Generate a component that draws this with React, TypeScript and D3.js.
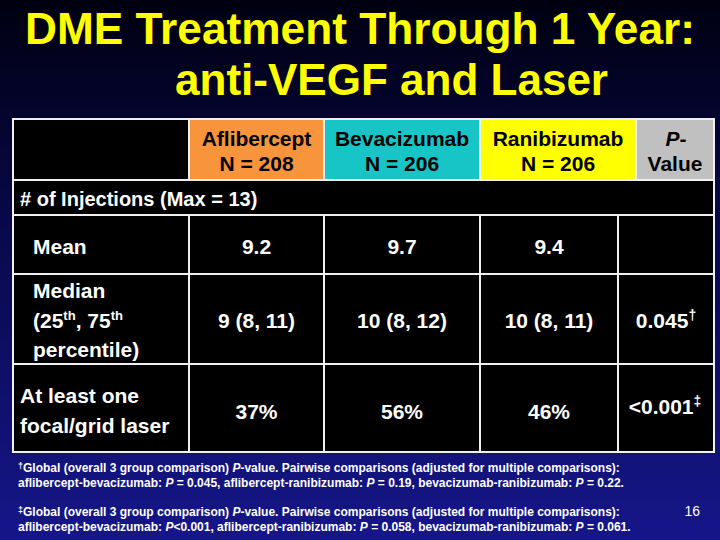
import React from "react";
import * as d3 from "d3";

const titleLines = ["DME Treatment Through 1 Year:", "anti-VEGF and Laser"];
const groups = ["Aflibercept", "Bevacizumab", "Ranibizumab"];
const groupN = [208, 206, 206];
const sectionLabel = "# of Injections (Max = 13)";
const meanValues = ["9.2", "9.7", "9.4"];
const medianValues = ["9 (8, 11)", "10 (8, 12)", "10 (8, 11)"];
const medianP = "0.045";
const laserValues = ["37%", "56%", "46%"];
const laserP = "<0.001";
const footLead = "Global (overall 3 group comparison) ";
const footPairs = "aflibercept-bevacizumab: ";
const slideNumber = "16";

const W = 720;
const H = 540;
const hdrEdges = [13, 189, 324, 480, 636, 714];
const bodyEdges = [13, 189, 324, 480, 618, 714];
const rowEdges = [119, 180, 215, 274, 364, 452];
const FONT = "'Liberation Sans', Arial, Helvetica, sans-serif";

const headerFill = d3
  .scaleOrdinal<string, string>()
  .domain(["label", ...groups, "p"])
  .range(["#000000", "#f8943c", "#17c4c6", "#ffff00", "#c0c0c0"]);

export default function App() {
  const hdrCells = d3.pairs(hdrEdges);
  const bodyCells = d3.pairs(bodyEdges);
  const cx = (i: number) => (bodyCells[i][0] + bodyCells[i][1]) / 2;
  const hx = (i: number) => (hdrCells[i][0] + hdrCells[i][1]) / 2;
  const white = "#ffffff";
  const lineCol = "#f0f0f0";
  const keys = ["label", ...groups, "p"];

  return (
    <svg
      width={W}
      height={H}
      style={{ position: "fixed", left: 0, top: 0 }}
      fontFamily={FONT}
      fontWeight="bold"
    >
      <defs>
        <linearGradient id="bg" x1="0" y1="0" x2="0" y2="1">
          <stop offset="0%" stopColor="#000010" />
          <stop offset="40%" stopColor="#080848" />
          <stop offset="100%" stopColor="#16168a" />
        </linearGradient>
      </defs>
      <rect width={W} height={H} fill="url(#bg)" />

      {/* Title */}
      <text x={25} y={44} fill="#ffff00" fontSize={44} textLength={670} lengthAdjust="spacingAndGlyphs">
        {titleLines[0]}
      </text>
      <text x={175} y={95} fill="#ffff00" fontSize={44} textLength={433} lengthAdjust="spacingAndGlyphs">
        {titleLines[1]}
      </text>

      {/* Table background */}
      <rect x={13} y={119} width={701} height={333} fill="#000" />
      {hdrCells.map(([a, b], i) => (
        <rect key={"h" + i} x={a} y={rowEdges[0]} width={b - a} height={rowEdges[1] - rowEdges[0]} fill={headerFill(keys[i])} />
      ))}
      {hdrEdges.slice(1, -1).map((x, i) => (
        <line key={"hv" + i} x1={x} x2={x} y1={rowEdges[0]} y2={rowEdges[1]} stroke={lineCol} strokeWidth={2} />
      ))}
      {bodyEdges.slice(1, -1).map((x, i) => (
        <line key={"bv" + i} x1={x} x2={x} y1={rowEdges[2]} y2={rowEdges[5]} stroke={lineCol} strokeWidth={2} />
      ))}
      {rowEdges.slice(1, -1).map((y, i) => (
        <line key={"hl" + i} x1={13} x2={714} y1={y} y2={y} stroke={lineCol} strokeWidth={2} />
      ))}
      <rect x={13} y={119} width={701} height={333} fill="none" stroke={lineCol} strokeWidth={2} />

      {/* Header text */}
      {groups.map((g, i) => (
        <g key={g} fill="#000" fontSize={21} textAnchor="middle">
          <text x={hx(i + 1)} y={146}>{g}</text>
          <text x={hx(i + 1)} y={171}>{`N = ${groupN[i]}`}</text>
        </g>
      ))}
      <g fill="#000" fontSize={21} textAnchor="middle">
        <text x={hx(4) + 1} y={146}>
          <tspan fontStyle="italic">P</tspan>-
        </text>
        <text x={hx(4)} y={171}>Value</text>
      </g>

      <text x={20} y={206} fill={white} fontSize={20}>{sectionLabel}</text>

      {/* Mean row */}
      <g fill={white} fontSize={21}>
        <text x={33} y={254}>Mean</text>
        {meanValues.map((v, i) => (
          <text key={"m" + i} x={cx(i + 1)} y={254} textAnchor="middle">{v}</text>
        ))}
      </g>

      {/* Median row */}
      <g fill={white} fontSize={21}>
        <text x={33} y={298}>Median</text>
        <text x={33} y={328}>
          (25<tspan fontSize={13} dy={-8}>th</tspan>
          <tspan dy={8}>, 75</tspan>
          <tspan fontSize={13} dy={-8}>th</tspan>
        </text>
        <text x={33} y={357}>percentile)</text>
        {medianValues.map((v, i) => (
          <text key={"md" + i} x={cx(i + 1)} y={328} textAnchor="middle">{v}</text>
        ))}
        <text x={cx(4)} y={328} textAnchor="middle">
          {medianP}
          <tspan fontSize={14} dy={-8}>†</tspan>
        </text>
      </g>

      {/* Laser row */}
      <g fill={white} fontSize={21}>
        <text x={20} y={403}>At least one</text>
        <text x={20} y={433}>focal/grid laser</text>
        {laserValues.map((v, i) => (
          <text key={"l" + i} x={cx(i + 1)} y={419} textAnchor="middle">{v}</text>
        ))}
        <text x={cx(4) - 1} y={414} textAnchor="middle">
          {laserP}
          <tspan fontSize={14} dy={-8}>‡</tspan>
        </text>
      </g>

      {/* Footnotes */}
      <g fill={white} fontSize={12} fontWeight="bold">
        <text x={18} y={472}>
          <tspan fontSize={9} dy={-3}>†</tspan>
          <tspan dy={3}>{footLead}</tspan>
          <tspan fontStyle="italic">P</tspan>
          -value. Pairwise comparisons (adjusted for multiple comparisons):
        </text>
        <text x={18} y={487}>
          {footPairs}
          <tspan fontStyle="italic">P</tspan> = 0.045, aflibercept-ranibizumab: <tspan fontStyle="italic">P</tspan> = 0.19, bevacizumab-ranibizumab: <tspan fontStyle="italic">P</tspan> = 0.22.
        </text>
        <text x={18} y={516}>
          <tspan fontSize={9} dy={-3}>‡</tspan>
          <tspan dy={3}>{footLead}</tspan>
          <tspan fontStyle="italic">P</tspan>
          -value.  Pairwise comparisons (adjusted for multiple comparisons):
        </text>
        <text x={18} y={531}>
          {footPairs}
          <tspan fontStyle="italic">P</tspan>&lt;0.001, aflibercept-ranibizumab: <tspan fontStyle="italic">P</tspan> = 0.058, bevacizumab-ranibizumab: <tspan fontStyle="italic">P</tspan> = 0.061.
        </text>
        <text x={700} y={516} textAnchor="end" fontSize={14} fontWeight="normal">{slideNumber}</text>
      </g>
    </svg>
  );
}
